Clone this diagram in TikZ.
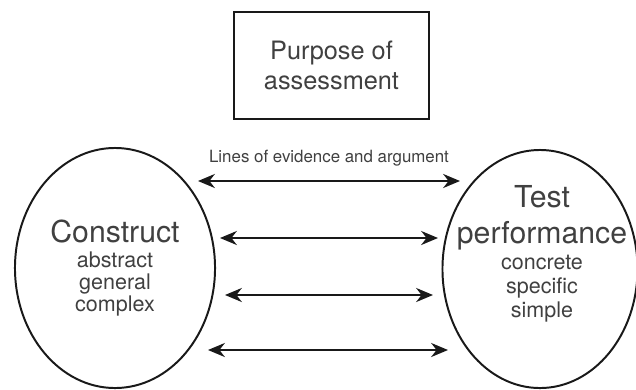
\documentclass[tikz,border=0pt]{standalone}
\usepackage{fontspec}
\setmainfont{TeX Gyre Heros}
\usetikzlibrary{shapes.geometric,arrows.meta}
\tikzset{
  purpbox/.style = {draw=black!90, line width=1.4pt, align=center,
    minimum width=4.875cm, minimum height=2.675cm,
    font=\fontsize{18}{21.5}\selectfont, text=black!75},
  blob/.style = {ellipse, draw=black!90, line width=1.4pt, inner sep=0pt},% construct / performance
  bigtxt/.style = {anchor=base, inner sep=0pt,
    font=\fontsize{21.5}{25}\selectfont, text=black!75},
  smalltxt/.style = {anchor=north, inner sep=0pt, align=center,
    font=\fontsize{15.3}{#1}\selectfont, text=black!75},
  smalltxt/.default = 15.5,
  twoway/.style = {{Stealth[length=12pt,width=10pt]}-{Stealth[length=12pt,width=10pt]},
    line width=1.5pt, draw=black!90}
}

\begin{document}
\begin{tikzpicture}[x=0.025cm, y=-0.025cm]
	\useasboundingbox (0,0) rectangle (636,389);

	\node [purpbox] (purpose) at (331.5,65.5) {Purpose of\\assessment};

	% the two sides
	\node [blob, minimum width=5cm, minimum height=6cm] (cons) at (115,268) {};
	\node [blob, minimum width=4.875cm, minimum height=5.95cm] (perf) at (540,269) {};

	\node [bigtxt] (consname) at (115,242) {Construct};
	\node [smalltxt] (conslist) at (115,251.5) {abstract\\general\\complex};

	\node [bigtxt] (perfname) at (542,207) {Test};
	\node [bigtxt] (perfname2) at (542,243) {performance};
	\node [smalltxt=17] (perflist) at (542,255) {concrete\\specific\\simple};

	% lines of evidence
	\coordinate (l1) at (198,181);
	\coordinate (r1) at (460,181);
	\coordinate (l2) at (220,238);
	\coordinate (r2) at (438,238);
	\coordinate (l3) at (225,295);
	\coordinate (r3) at (433,295);
	\coordinate (l4) at (208,350);
	\coordinate (r4) at (448,350);

	\draw [twoway] (l1) -- node [above=9.5pt, inner sep=0pt, text=black!75,
		font=\fontsize{12}{14}\selectfont] (evid) {Lines of evidence and argument} (r1);
	\draw [twoway] (l2) -- (r2);
	\draw [twoway] (l3) -- (r3);
	\draw [twoway] (l4) -- (r4);

\end{tikzpicture}
\end{document}
